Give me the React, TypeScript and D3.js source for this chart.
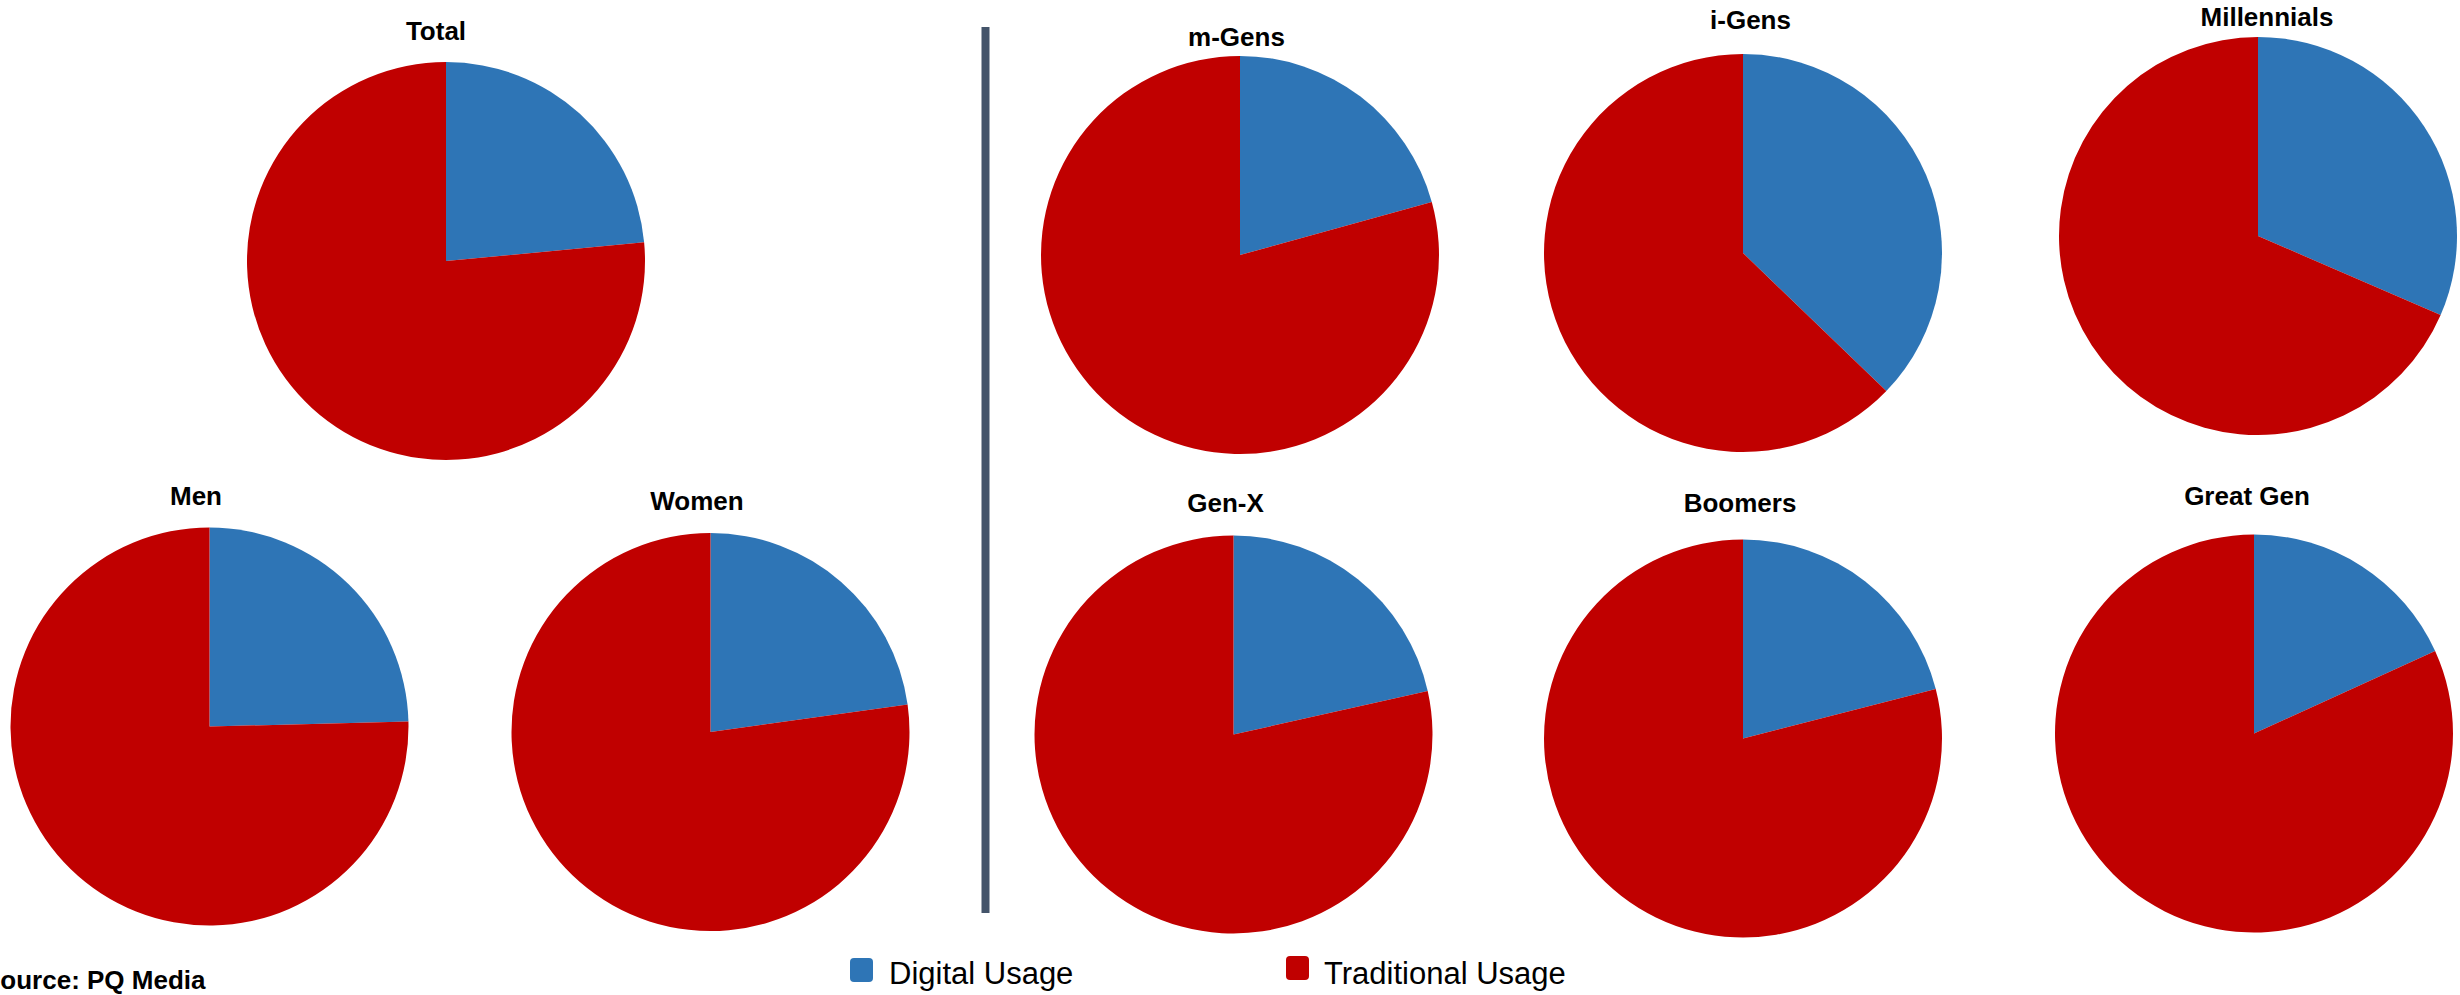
import React from "react";
import * as d3 from "d3";

// ---- data ----
const categories = ["Total", "Men", "Women", "m-Gens", "i-Gens", "Millennials", "Gen-X", "Boomers", "Great Gen"];
const seriesNames = ["Digital Usage", "Traditional Usage"];
const digitalUsage = [23.5, 24.6, 22.8, 20.7, 37.2, 31.5, 21.5, 21.0, 18.2];
const traditionalUsage = [76.5, 75.4, 77.2, 79.3, 62.8, 68.5, 78.5, 79.0, 81.8];

// ---- layout (positions only) ----
const pieCenters: [number, number][] = [
  [446, 261], [209.5, 726.5], [710.5, 732],
  [1240, 255], [1743, 253], [2258, 236],
  [1233.5, 734.5], [1743, 738.5], [2254, 733.5],
];
const titlePos: [number, number][] = [
  [436, 39.5], [196, 505], [697, 510],
  [1236.5, 45.5], [1750.5, 29], [2267, 26],
  [1225.5, 512], [1740, 512], [2247, 505],
];
const RADIUS = 199;
const COLORS = ["#2e75b6", "#c00000"];
const FONT = "'Liberation Sans', Arial, Helvetica, sans-serif";

export default function App() {
  const pie = d3.pie<number>().sort(null).value((d) => d).startAngle(0).endAngle(2 * Math.PI);
  const arc = d3.arc<d3.PieArcDatum<number>>().innerRadius(0).outerRadius(RADIUS);
  const color = d3.scaleOrdinal<string, string>().domain(seriesNames).range(COLORS);

  return (
    <svg
      width={2460}
      height={995}
      style={{ position: "absolute", left: 0, top: 0, background: "#fff", overflow: "hidden" }}
      fontFamily={FONT}
    >
      {categories.map((cat, i) => {
        const arcs = pie([digitalUsage[i], traditionalUsage[i]]);
        const [cx, cy] = pieCenters[i];
        const [tx, ty] = titlePos[i];
        return (
          <g key={cat}>
            <g transform={`translate(${cx},${cy})`}>
              {arcs.map((a, j) => (
                <path key={j} d={arc(a) || ""} fill={color(seriesNames[j])} />
              ))}
            </g>
            <text x={tx} y={ty} textAnchor="middle" fontSize={26} fontWeight="bold" fill="#000">
              {cat}
            </text>
          </g>
        );
      })}
      {/* divider */}
      <rect x={981.5} y={27} width={8} height={886} fill="#44546a" />
      {/* source */}
      <text x={-17} y={989} fontSize={26} fontWeight="bold" fill="#000">Source: PQ Media</text>
      {/* legend */}
      {seriesNames.map((s, j) => {
        const lx = j === 0 ? 850 : 1286;
        const tx = j === 0 ? 889 : 1324;
        return (
          <g key={s}>
            <rect x={lx} y={j === 0 ? 958 : 956} width={23} height={24} rx={4} fill={color(s)} />
            <text x={tx} y={984} fontSize={31} fill="#000">{s}</text>
          </g>
        );
      })}
    </svg>
  );
}
